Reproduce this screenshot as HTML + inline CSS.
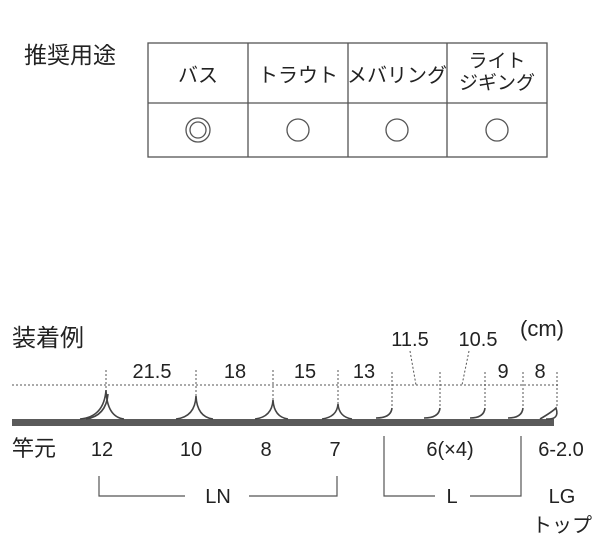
<!DOCTYPE html>
<html><head><meta charset="utf-8"><style>
body{margin:0;background:#fff;}
svg text{font-family:"Liberation Sans","Noto Sans CJK JP",sans-serif;fill:#222;}
</style></head><body>
<svg width="600" height="552" viewBox="0 0 600 552" xmlns="http://www.w3.org/2000/svg">
<text x="24" y="63" font-size="23">推奨用途</text>
<g stroke="#555" stroke-width="1.3" fill="none">
<rect x="148" y="43" width="399" height="114"/>
<line x1="148" y1="103" x2="547" y2="103"/>
<line x1="248" y1="43" x2="248" y2="157"/>
<line x1="348" y1="43" x2="348" y2="157"/>
<line x1="447" y1="43" x2="447" y2="157"/>
<circle cx="198" cy="130" r="12"/><circle cx="198" cy="130" r="8"/>
<circle cx="298" cy="130" r="11"/>
<circle cx="397" cy="130" r="11"/>
<circle cx="497" cy="130" r="11"/>
</g>
<g font-size="20" text-anchor="middle">
<text x="198" y="82">バス</text>
<text x="298" y="82">トラウト</text>
<text x="397" y="82">メバリング</text>
<text x="497" y="67" font-size="19">ライト</text>
<text x="497" y="89" font-size="19">ジギング</text>
</g>
<text x="12" y="346" font-size="24">装着例</text>
<text x="520" y="336" font-size="22">(cm)</text>
<g font-size="20" text-anchor="middle">
<text x="410" y="346">11.5</text>
<text x="478" y="346">10.5</text>
<text x="152" y="378">21.5</text>
<text x="235" y="378">18</text>
<text x="305" y="378">15</text>
<text x="364" y="378">13</text>
<text x="503" y="378">9</text>
<text x="540" y="378">8</text>
</g>
<g stroke="#555" stroke-width="1" stroke-dasharray="2,2" fill="none">
<line x1="12" y1="385" x2="558" y2="385"/>
<line x1="410" y1="351" x2="416" y2="385"/>
<line x1="469" y1="351" x2="462" y2="385"/>
<line x1="106" y1="370" x2="106" y2="390"/>
<line x1="196" y1="370" x2="196" y2="396"/>
<line x1="273" y1="370" x2="273" y2="400"/>
<line x1="338" y1="370" x2="338" y2="404"/>
<line x1="392" y1="372" x2="392" y2="408"/>
<line x1="440" y1="372" x2="440" y2="408"/>
<line x1="485" y1="372" x2="485" y2="408"/>
<line x1="523" y1="372" x2="523" y2="408"/>
<line x1="557" y1="372" x2="557" y2="408"/>
</g>
<rect x="12" y="419" width="542" height="7" fill="#5a5a5a"/>
<g stroke="#444" stroke-width="1.6" fill="none">
<path d="M80 419 Q104 417 106 390 Q107 417 124 419"/>
<path d="M86 419 Q106 416 108 394"/>
<path d="M176 419 Q195 417 196 396 Q197 417 213 419"/>
<path d="M255 419 Q272 417 273 400 Q274 417 288 419"/>
<path d="M322 419 Q337 417 338 404 Q339 417 352 419"/>
<path d="M376 418 Q391 418 392 408"/>
<path d="M424 418 Q439 418 440 408"/>
<path d="M470 418 Q484 418 485 408"/>
<path d="M508 418 Q522 418 523 408"/>
<path d="M540 419 Q552 412 556 408 Q560 420 546 419"/>
</g>
<text x="12" y="456" font-size="22">竿元</text>
<g font-size="20" text-anchor="middle">
<text x="102" y="456">12</text>
<text x="191" y="456">10</text>
<text x="266" y="456">8</text>
<text x="335" y="456">7</text>
<text x="450" y="456">6(×4)</text>
<text x="561" y="456">6-2.0</text>
<text x="218" y="503">LN</text>
<text x="452" y="503">L</text>
<text x="562" y="503">LG</text>
<text x="562" y="532">トップ</text>
</g>
<g stroke="#555" stroke-width="1.2" fill="none">
<polyline points="99,476 99,496 185,496"/>
<polyline points="249,496 337,496 337,476"/>
<polyline points="384,436 384,496 435,496"/>
<polyline points="470,496 521,496 521,436"/>
</g>
</svg>
</body></html>
